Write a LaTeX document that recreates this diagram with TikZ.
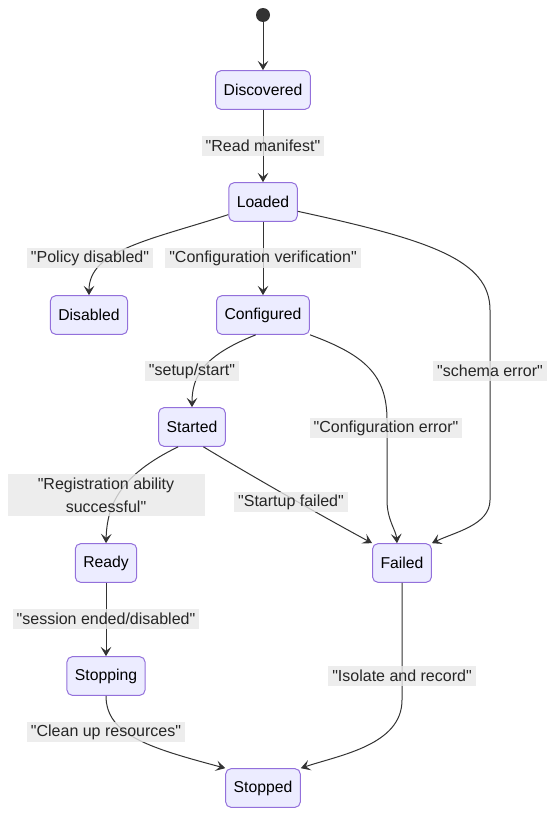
\documentclass[tikz,border=0pt]{standalone}
\usepackage{fontspec}
\setmainfont{Liberation Sans}
\usetikzlibrary{arrows.meta}
\definecolor{stfill}{HTML}{ECECFF}
\definecolor{stline}{HTML}{9370DB}
\definecolor{lblfill}{HTML}{E8E8E8}
\definecolor{edgecol}{HTML}{333333}
\newcommand{\qt}[1]{\textquotedbl#1\textquotedbl}
\tikzset{
  state/.style={draw=stline, fill=stfill, rounded corners=4pt, line width=0.75pt,
    minimum height=29pt, inner xsep=6pt, font=\fontsize{11.8}{14}\selectfont, text=black},
  lbl/.style={fill=lblfill, fill opacity=0.8, text opacity=1, inner xsep=3pt,
    inner ysep=1.5pt, minimum height=15pt, font=\fontsize{12}{17}\selectfont, text=black!85},
  trans/.style={draw=edgecol, line width=0.75pt, -{Stealth[length=7pt,width=8pt,inset=3pt]}}
}
\begin{document}
\begin{tikzpicture}[x=0.75pt,y=-0.75pt]
				%%%%% START %%%%%
				\def\xmid{263}
				\def\xleft{106}
				\def\xright{402}
				\useasboundingbox (0,0) rectangle (558,828);

				% states
				\node[circle, fill=edgecol, inner sep=0pt, minimum size=10.5pt] (init) at (\xmid,15) {};
				\node[state] (disc) at (\xmid,90) {Discovered};
				\node[state] (load) at (\xmid,202) {Loaded};
				\node[state] (disa) at (89,315) {Disabled};
				\node[state] (conf) at (\xmid,315) {Configured};
				\node[state] (star) at (192,427) {Started};
				\node[state] (redy) at (\xleft,563) {Ready};
				\node[state] (fail) at (\xright,563) {Failed};
				\node[state] (stpg) at (\xleft,676) {Stopping};
				\node[state] (stpd) at (\xmid,788) {Stopped};

				% transitions
				\draw[trans] (init) -- (disc);
				\draw[trans] (disc) -- (load);
				\draw[trans] (load.200) .. controls (150,240) and (89,250) .. (disa.north);
				\draw[trans] (load) -- (conf);
				\draw[trans] (load.345) .. controls (430,240) and (490,260) .. (490,310)
				  -- (490,500) .. controls (490,525) and (455,532) .. (fail.north east);
				\draw[trans] (conf.250) .. controls (205,355) and (192,375) .. (star.north);
				\draw[trans] (conf.south east) .. controls (365,355) and (387,375) .. (387,420)
				  -- (387,500) .. controls (387,520) and (396,530) .. ([xshift=-3.75pt]fail.north);
				\draw[trans] (star.235) .. controls (120,475) and (107,505) .. (redy.north);
				\draw[trans] (star.300) .. controls (250,475) and (320,515) .. (fail.north west);
				\draw[trans] (redy) -- (stpg);
				\draw[trans] (fail.south) -- (402,700) .. controls (402,745) and (340,755) .. (stpd.north east);
				\draw[trans] (stpg.south) .. controls (106,735) and (150,748) .. (stpd.north west);

				% labels
				\node[lbl] (l1) at (\xmid,146) {\qt{Read manifest}};
				\node[lbl] (l2) at (90,258) {\qt{Policy disabled}};
				\node[lbl] (l3) at (\xmid,258) {\qt{Configuration verification}};
				\node[lbl] (l4) at (192,371) {\qt{setup/start}};
				\node[lbl] (l5) at (490,371) {\qt{schema error}};
				\node[lbl] (l6) at (386,428) {\qt{Configuration error}};
				\node[lbl, align=center, minimum width=147.75pt, inner ysep=3pt] (l7) at (106,495) {\textquotedbl Registration ability\\successful\textquotedbl};
				\node[lbl] (l8) at (291,502) {\qt{Startup failed}};
				\node[lbl] (l9) at (\xleft,619) {\qt{session ended/disabled}};
				\node[lbl] (l10) at (\xright,676) {\qt{Isolate and record}};
				\node[lbl] (l11) at (\xleft,732) {\qt{Clean up resources}};
				%%%%% END %%%%%
\end{tikzpicture}
\end{document}
